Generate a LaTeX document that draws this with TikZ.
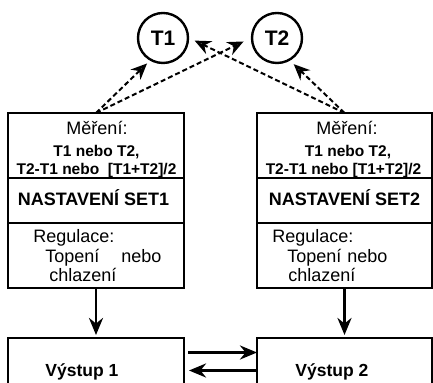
\documentclass[tikz,border=0pt]{standalone}
\usepackage{fontspec}
\setmainfont{Liberation Sans}
\usetikzlibrary{arrows.meta,positioning}
\tikzset{
  % box
	regbox/.style     ={draw,line width=1.2pt,outer sep=0pt,inner sep=0pt},
	regsensor/.style  ={draw,circle,line width=1.2pt,minimum size=25pt,inner sep=0pt,font=\fontsize{10.5}{12}\selectfont\bfseries},
  % text
	regtxt/.style     ={inner sep=0pt,font=\fontsize{9}{11}\selectfont},
	regsmall/.style   ={inner sep=0pt,font=\fontsize{7.75}{9}\selectfont\bfseries},
	regbold/.style    ={inner sep=0pt,font=\fontsize{9}{11}\selectfont\bfseries},
	regout/.style     ={inner sep=0pt,font=\fontsize{8.75}{10}\selectfont\bfseries},
  % arrow
	regra/.style      ={-{Stealth[open,length=8.5pt,width=7pt,line width=1.4pt]},line width=1.2pt},
	regdash/.style    ={-{Stealth[open,length=8pt,width=7pt,line width=1.3pt]},line width=1pt,dash pattern=on 2.5pt off 1.5pt}
}

\begin{document}
\begin{tikzpicture}[x=0.5pt,y=-0.5pt]
	\useasboundingbox (0,0) rectangle (433,383);
	% sensors
	\node[regsensor] (T1) at (163,38) {T1};
	\node[regsensor] (T2) at (277,38) {T2};
	% left column
	\node[regbox,minimum width=88pt,minimum height=32.5pt] (meas1) at (96,145.5) {};
	\node[regbox,minimum width=88pt,minimum height=22.5pt,below=0pt of meas1] (set1) {};
	\node[regbox,minimum width=88pt,minimum height=32.5pt,below=0pt of set1] (reg1) {};
	\node[regbox,minimum width=88pt,minimum height=32.5pt] (out1) at (96,370.5) {};
	% right column
	\node[regbox,minimum width=87.5pt,minimum height=32.5pt] (meas2) at (344.5,145.5) {};
	\node[regbox,minimum width=87.5pt,minimum height=22.5pt,below=0pt of meas2] (set2) {};
	\node[regbox,minimum width=87.5pt,minimum height=32.5pt,below=0pt of set2] (reg2) {};
	\node[regbox,minimum width=87.5pt,minimum height=32.5pt] (out2) at (344.5,370.5) {};
	% texts left
	\node[regtxt,anchor=base] (meas1a) at (97,135) {Měření:};
	\node[regsmall,anchor=base] (meas1b) at (96.5,157) {T1 nebo T2,};
	\node[regsmall,anchor=base] (meas1c) at (96.5,175) {T2-T1 nebo\ \ [T1+T2]/2};
	\node[regbold,anchor=base] (set1t) at (93.5,206) {NASTAVENÍ SET1};
	\node[regtxt,anchor=base west] (reg1a) at (33,243) {Regulace:};
	\node[regtxt,anchor=base west] (reg1b) at (45,263) {Topení\hspace{11pt}nebo};
	\node[regtxt,anchor=base west] (reg1c) at (49,282) {chlazení};
	\node[regout,anchor=base west] (out1t) at (45,377) {Výstup 1};
	% texts right
	\node[regtxt,anchor=base] (meas2a) at (347,135) {Měření:};
	\node[regsmall,anchor=base] (meas2b) at (348,157) {T1 nebo T2,};
	\node[regsmall,anchor=base] (meas2c) at (343.5,175) {T2-T1 nebo [T1+T2]/2};
	\node[regbold,anchor=base] (set2t) at (344.5,206) {NASTAVENÍ SET2};
	\node[regtxt,anchor=base west] (reg2a) at (272,243) {Regulace:};
	\node[regtxt,anchor=base west] (reg2b) at (287,263) {Topení\hspace{3pt}nebo};
	\node[regtxt,anchor=base west] (reg2c) at (288,282) {chlazení};
	\node[regout,anchor=base west] (out2t) at (295,377) {Výstup 2};
	% measuring
	\draw[regdash,shorten >=2pt] (meas1.north) -- (T1.240);
	\draw[regdash,shorten >=4pt] (meas1.north) -- (T2.west);
	\draw[regdash,shorten >=3pt] (meas2.north) -- (T1.east);
	\draw[regdash,shorten >=2.5pt] (meas2.north) -- (T2.300);
	% outputs
	\draw[regra,shorten >=1.5pt] (reg1.south) -- (out1.north);
	\draw[regra,shorten >=1.5pt] (reg2.south) -- (out2.north);
	\draw[regra,shorten <=2pt] ([yshift=9pt]out1.east) -- ([yshift=9pt]out2.west);
	\draw[regra,shorten >=2.5pt] (out2.west) -- (out1.east);
\end{tikzpicture}
\end{document}
